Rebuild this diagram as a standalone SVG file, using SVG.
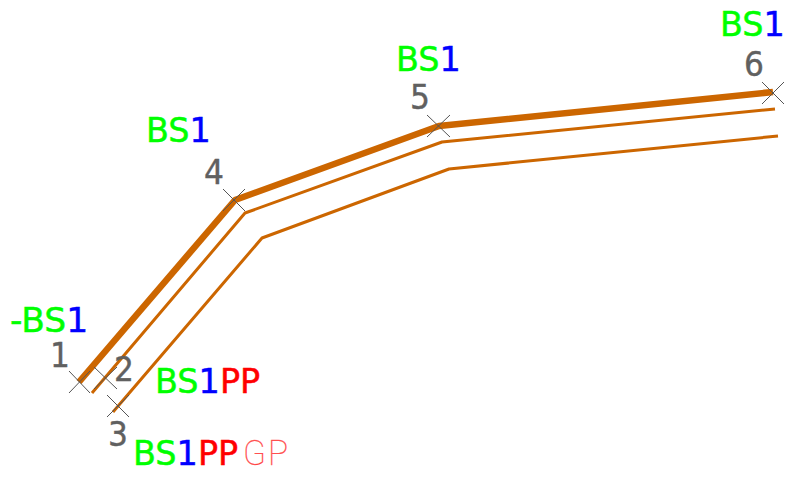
<svg xmlns="http://www.w3.org/2000/svg" width="786" height="480" viewBox="0 0 786 480">
<style>
.l{fill:none;stroke:#cc6600;stroke-width:3;stroke-linejoin:round}
.t{stroke-width:6.5}
.x{stroke:#555;stroke-width:1;fill:none}
text{font-family:"DejaVu Sans",sans-serif}
.n{font-size:33px;fill:#606060;stroke:#606060;stroke-width:.4}
.b{font-size:34.5px;fill:#00ff00;stroke:#00ff00;stroke-width:.5}
.bl{fill:#0000ff;stroke:#0000ff}
.r{fill:#ff0000;stroke:#ff0000}
.g{font-family:"Roboto",sans-serif;font-weight:100;fill:#ff3333;stroke:#ff6666;stroke-width:.3;letter-spacing:2px}
</style>
<rect width="786" height="480" fill="#ffffff"/>
<g id="connectors">
<polyline class="l t" points="79,382 235,200 439,126 773,92"/>
<polyline class="l" points="92,393 245,213 442,142 775,109"/>
<polyline class="l" points="113,412 262,238 449,169 778,136"/>
</g>
<g id="node-1"><path class="x" d="M69,371L90,393M69,393L90,371"/><text class="n" transform="translate(50,367) scale(.95,1)">1</text><text class="b" transform="translate(10,332)">-BS<tspan class="bl">1</tspan></text></g>
<g id="node-2"><path class="x" d="M94,367L117,389M94,389L117,367"/><text class="n" transform="translate(114,381) scale(.95,1)">2</text><text class="b" transform="translate(155,393) scale(.97,1)">BS<tspan class="bl">1</tspan><tspan class="r">PP</tspan></text></g>
<g id="node-3"><path class="x" d="M107,395L129,417M107,417L129,395"/><text class="n" transform="translate(108,446) scale(.95,1)">3</text><text class="b" transform="translate(133,465) scale(.97,1)">BS<tspan class="bl">1</tspan><tspan class="r">PP</tspan><tspan class="g" dx="5">GP</tspan></text></g>
<g id="node-4"><path class="x" d="M223,189L245,211M223,211L245,189"/><text class="n" transform="translate(204,184) scale(.95,1)">4</text><text class="b" transform="translate(146,142) scale(.97,1)">BS<tspan class="bl">1</tspan></text></g>
<g id="node-5"><path class="x" d="M427,115L450,137M427,137L450,115"/><text class="n" transform="translate(410,109) scale(.95,1)">5</text><text class="b" transform="translate(396,71) scale(.97,1)">BS<tspan class="bl">1</tspan></text></g>
<g id="node-6"><path class="x" d="M762,82L784,104M762,104L784,82"/><text class="n" transform="translate(744,76) scale(.95,1)">6</text><text class="b" transform="translate(720,36) scale(.97,1)">BS<tspan class="bl">1</tspan></text></g>
</svg>
